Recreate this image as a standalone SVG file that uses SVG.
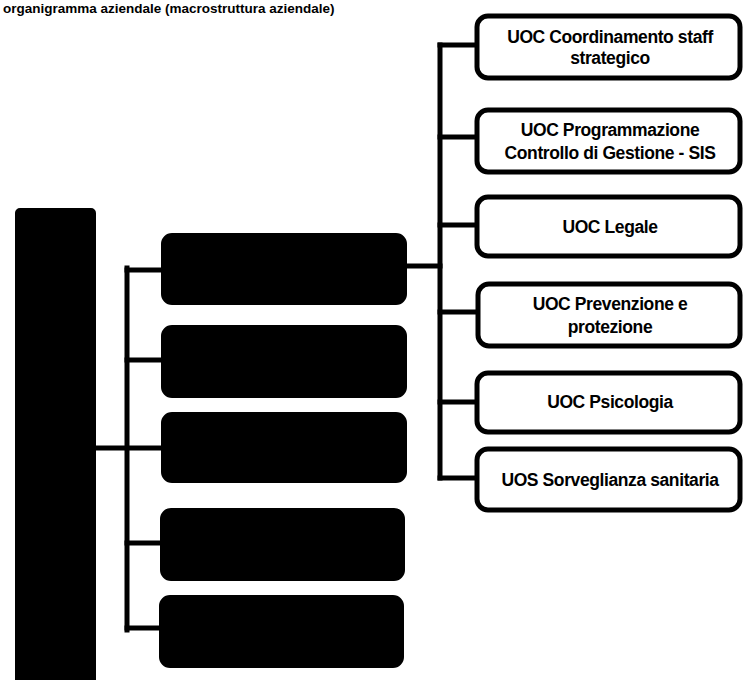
<svg xmlns="http://www.w3.org/2000/svg" width="744" height="680" viewBox="0 0 744 680">
<style>
.dark{fill:#000;stroke:#000;stroke-width:2}
.box{fill:#fff;stroke:#000;stroke-width:5}
.ln{fill:none;stroke:#000;stroke-width:5;stroke-linecap:square}
.t{font-family:"Liberation Sans",Arial,sans-serif;font-weight:bold;font-size:17.5px;fill:#000;text-anchor:middle;letter-spacing:-0.4px}
.hd{font-family:"Liberation Sans",Arial,sans-serif;font-weight:bold;font-size:13.5px;fill:#000}
</style>
<rect width="744" height="680" fill="#fff"/>
<text class="hd" x="3" y="13">organigramma aziendale (macrostruttura aziendale)</text>
<g id="connectors">
<path class="ln" d="M95,448 H162"/>
<path class="ln" d="M127,268 V630"/>
<path class="ln" d="M127,270 H162 M127,360 H162 M127,543 H162 M127,628 H162"/>
<path class="ln" d="M406,266 H440"/>
<path class="ln" d="M440,45 V478"/>
<path class="ln" d="M440,45 H475 M440,137 H475 M440,225 H475 M440,312 H475 M440,402 H475 M440,478 H475"/>
</g>
<g id="root"><rect class="dark" x="16" y="209" width="79" height="480" rx="4"/></g>
<g id="m1"><rect class="dark" x="162" y="234" width="244" height="70" rx="10"/></g>
<g id="m2"><rect class="dark" x="162" y="326" width="244" height="71" rx="10"/></g>
<g id="m3"><rect class="dark" x="162" y="413" width="244" height="69" rx="10"/></g>
<g id="m4"><rect class="dark" x="161" y="509" width="243" height="71" rx="10"/></g>
<g id="m5"><rect class="dark" x="160" y="596" width="243" height="71" rx="10"/></g>
<g id="r1"><rect class="box" x="477" y="16" width="263" height="62" rx="11"/><text class="t" x="610" y="43">UOC Coordinamento staff</text><text class="t" x="610" y="64">strategico</text></g>
<g id="r2"><rect class="box" x="477" y="110" width="263" height="62" rx="11"/><text class="t" x="610" y="136">UOC Programmazione</text><text class="t" x="610" y="159">Controllo di Gestione - SIS</text></g>
<g id="r3"><rect class="box" x="477" y="197" width="263" height="59" rx="11"/><text class="t" x="610" y="233">UOC Legale</text></g>
<g id="r4"><rect class="box" x="478" y="284" width="262" height="62" rx="11"/><text class="t" x="610" y="310">UOC Prevenzione e</text><text class="t" x="610" y="333">protezione</text></g>
<g id="r5"><rect class="box" x="477" y="373" width="263" height="59" rx="11"/><text class="t" x="610" y="408">UOC Psicologia</text></g>
<g id="r6"><rect class="box" x="477" y="449" width="263" height="61" rx="11"/><text class="t" x="610" y="486">UOS Sorveglianza sanitaria</text></g>
</svg>
